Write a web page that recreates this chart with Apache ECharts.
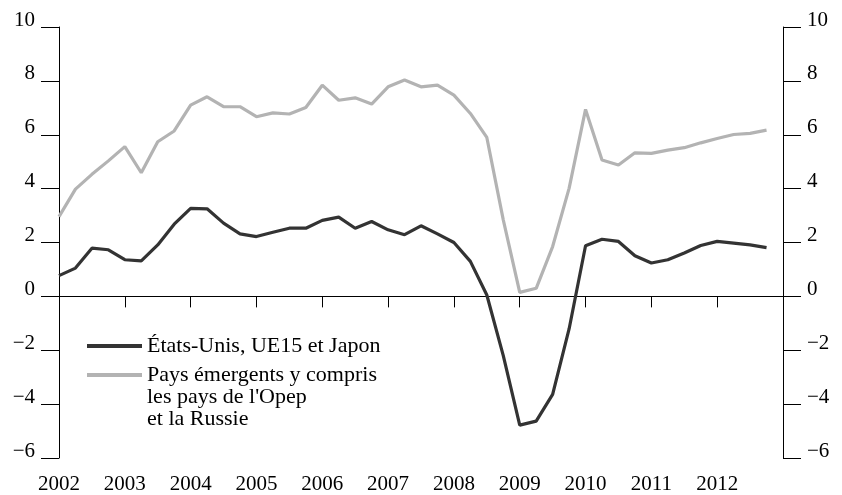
<!DOCTYPE html>
<html lang="fr" style="height: 100%">
<head>
  <meta charset="UTF-8" />
  <title>Croissance</title>
  <script src="https://cdn.jsdelivr.net/npm/echarts@6/dist/echarts.min.js"></script>
  <style>
    html, body { height: 100%; margin: 0; background: #fff; }
    #chart { width: 842px; height: 495px; }
  </style>
</head>
<body>
  <div id="chart"></div>
  <script>
    // quarterly values, 2002 T1 .. 2012 T4
    const years = [2002, 2003, 2004, 2005, 2006, 2007, 2008, 2009, 2010, 2011, 2012];
    const quarters = years.flatMap(y => [y, y + 0.25, y + 0.5, y + 0.75]);

    const nameAdvanced = 'États-Unis, UE15 et Japon';
    const nameEmerging = "Pays émergents y compris\nles pays de l'Opep\net la Russie";

    const advanced = [
      0.77, 1.05, 1.79, 1.73, 1.36, 1.32, 1.91, 2.68, 3.27, 3.25, 2.72, 2.32,
      2.22, 2.38, 2.53, 2.53, 2.82, 2.94, 2.53, 2.78, 2.47, 2.29, 2.62, 2.32,
      2.00, 1.30, 0.05, -2.20, -4.78, -4.63, -3.64, -1.21, 1.88, 2.12, 2.04, 1.51,
      1.24, 1.36, 1.61, 1.89, 2.04, 1.98, 1.91, 1.81
    ];
    const emerging = [
      2.96, 3.98, 4.53, 5.03, 5.56, 4.59, 5.74, 6.14, 7.10, 7.41, 7.04, 7.04,
      6.67, 6.81, 6.77, 7.01, 7.84, 7.28, 7.37, 7.14, 7.78, 8.03, 7.78, 7.84,
      7.47, 6.79, 5.90, 2.84, 0.15, 0.30, 1.85, 4.01, 6.94, 5.06, 4.88, 5.33,
      5.31, 5.43, 5.52, 5.70, 5.86, 6.01, 6.05, 6.17
    ];

    const font = 'Liberation Serif';
    const darkColor = '#333333';
    const greyColor = '#b3b3b3';
    const chart = echarts.init(document.getElementById('chart'));

    const yLabel = v => (v < 0 ? '\u2212' + Math.abs(v) : String(v));

    const yAxisBase = {
      type: 'value',
      min: -6,
      max: 10,
      interval: 2,
      splitLine: { show: false },
      axisLine: { show: true, lineStyle: { color: '#000', width: 1 } },
      axisTick: { show: true, length: 18, lineStyle: { color: '#000', width: 1 } },
      axisLabel: {
        color: '#000',
        fontFamily: font,
        fontSize: 21,
        lineHeight: 14,
        margin: 24,
        verticalAlign: 'bottom',
        formatter: yLabel
      }
    };

    const legendText = { color: '#000', fontFamily: font, fontSize: 22, lineHeight: 22 };

    chart.setOption({
      backgroundColor: '#fff',
      animation: false,
      grid: { left: 59, right: 59, top: 27, bottom: 37 },
      legend: [
        {
          left: 87,
          top: 335,
          padding: 0,
          icon: 'rect',
          itemWidth: 55,
          itemHeight: 4,
          data: [nameAdvanced],
          textStyle: legendText
        },
        {
          left: 87,
          top: 364,
          padding: 0,
          // line sample sits on the first of the three text lines
          icon: 'path://M0,0h0.01v0.01h-0.01z M0,9h55v4h-55z M0,65.99h0.01v0.01h-0.01z',
          itemWidth: 55,
          itemHeight: 66,
          data: [nameEmerging],
          textStyle: legendText
        }
      ],
      xAxis: {
        type: 'value',
        min: 2002,
        max: 2013,
        interval: 1,
        splitLine: { show: false },
        axisLine: { show: true, lineStyle: { color: '#000', width: 1 } },
        axisTick: { show: true, length: 11, lineStyle: { color: '#000', width: 1 } },
        axisLabel: {
          color: '#000',
          fontFamily: font,
          fontSize: 21,
          margin: 16,
          formatter: v => (v === 2013 ? '' : String(v))
        }
      },
      yAxis: [
        Object.assign({}, yAxisBase, { position: 'left' }),
        Object.assign({}, yAxisBase, { position: 'right' })
      ],
      series: [
        {
          name: nameEmerging,
          type: 'line',
          symbol: 'none',
          lineStyle: { color: greyColor, width: 3.2 },
          itemStyle: { color: greyColor },
          data: quarters.map((q, i) => [q, emerging[i]]),
          z: 2
        },
        {
          name: nameAdvanced,
          type: 'line',
          symbol: 'none',
          lineStyle: { color: darkColor, width: 3.2 },
          itemStyle: { color: darkColor },
          data: quarters.map((q, i) => [q, advanced[i]]),
          z: 3,
          markLine: {
            silent: true,
            symbol: 'none',
            label: { show: false },
            lineStyle: { color: '#000', width: 1, type: 'solid' },
            data: [{ yAxis: 0 }],
            z: 1
          }
        }
      ]
    });
  </script>
</body>
</html>
